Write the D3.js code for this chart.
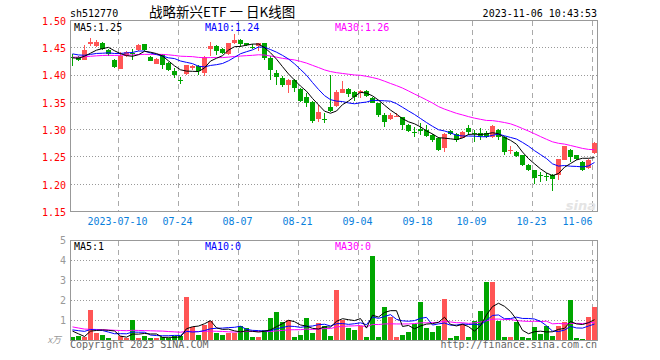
<!DOCTYPE html>
<html><head><meta charset="utf-8">
<script src="https://cdn.jsdelivr.net/npm/d3@7"></script>
<style>body{margin:0;background:#fff}</style>
</head><body><svg id="c" width="660" height="360"></svg>
<script>
const symbol = "sh512770";
const title = "战略新兴ETF 一 日K线图";
const timestamp = "2023-11-06 10:43:53";

const openP = [1.4330,1.4327,1.4284,1.4562,1.4531,1.4593,1.4457,1.4284,1.4117,1.4346,
 1.4410,1.4457,1.4562,1.4327,1.4210,1.4377,1.4222,1.4068,1.3905,1.4025,
 1.4130,1.4173,1.4037,1.4481,1.4531,1.4469,1.4377,1.4580,1.4642,1.4580,
 1.4512,1.4531,1.4580,1.4315,1.4037,1.3945,1.3821,1.3914,1.3741,1.3605,
 1.3513,1.3186,1.3190,1.3408,1.3433,1.3679,1.3747,1.3698,1.3667,1.3710,
 1.3587,1.3482,1.3266,1.3186,1.3240,1.3223,1.3084,1.2965,1.3010,1.2992,
 1.2899,1.2850,1.2672,1.2980,1.2918,1.2856,1.3022,1.2945,1.2942,1.2930,
 1.2869,1.2992,1.2869,1.2615,1.2593,1.2531,1.2347,1.2255,1.2165,1.2145,
 1.2163,1.2163,1.2451,1.2623,1.2530,1.2408,1.2304,1.2574];
const highP = [1.4377,1.4346,1.4543,1.4673,1.4636,1.4599,1.4469,1.4296,1.4420,1.4438,
 1.4481,1.4562,1.4574,1.4346,1.4315,1.4395,1.4235,1.4130,1.3957,1.4191,
 1.4191,1.4185,1.4358,1.4611,1.4543,1.4500,1.4593,1.4747,1.4654,1.4593,
 1.4562,1.4592,1.4593,1.4346,1.4099,1.3976,1.3926,1.3926,1.3760,1.3667,
 1.3525,1.3451,1.3297,1.4006,1.3729,1.3883,1.3760,1.3710,1.3729,1.3729,
 1.3605,1.3494,1.3297,1.3297,1.3297,1.3235,1.3096,1.3053,1.3127,1.3084,
 1.2918,1.2869,1.2942,1.2992,1.2930,1.2980,1.3084,1.2992,1.3022,1.2980,
 1.3084,1.3004,1.2881,1.2697,1.2605,1.2543,1.2365,1.2267,1.2224,1.2206,
 1.2193,1.2464,1.2709,1.2654,1.2540,1.2421,1.2464,1.2771];
const lowP = [1.4161,1.4253,1.4272,1.4531,1.4519,1.4457,1.4358,1.4124,1.4111,1.4333,
 1.4284,1.4444,1.4438,1.4253,1.4204,1.4111,1.4068,1.3945,1.3834,1.4006,
 1.4099,1.4006,1.3988,1.4358,1.4364,1.4377,1.4364,1.4562,1.4519,1.4531,
 1.4469,1.4438,1.4284,1.3914,1.3821,1.3790,1.3680,1.3698,1.3513,1.3408,
 1.3124,1.3143,1.3124,1.3328,1.3408,1.3667,1.3605,1.3531,1.3574,1.3605,
 1.3482,1.3235,1.3050,1.3174,1.3223,1.2992,1.2961,1.2869,1.2899,1.2869,
 1.2777,1.2611,1.2593,1.2899,1.2777,1.2838,1.2899,1.2777,1.2807,1.2838,
 1.2856,1.2807,1.2543,1.2562,1.2500,1.2335,1.2243,1.1997,1.2040,1.2058,
 1.1874,1.2070,1.2439,1.2408,1.2440,1.2236,1.2286,1.2562];
const closeP = [1.4327,1.4284,1.4457,1.4611,1.4605,1.4469,1.4395,1.4148,1.4346,1.4426,
 1.4405,1.4543,1.4457,1.4266,1.4296,1.4191,1.4087,1.4006,1.3902,1.4179,
 1.4170,1.4068,1.4333,1.4531,1.4438,1.4407,1.4580,1.4642,1.4562,1.4549,
 1.4506,1.4586,1.4315,1.4087,1.3963,1.3821,1.3914,1.3760,1.3531,1.3494,
 1.3161,1.3328,1.3180,1.3340,1.3698,1.3747,1.3655,1.3605,1.3716,1.3624,
 1.3494,1.3266,1.3143,1.3266,1.3250,1.3081,1.2980,1.2960,1.2980,1.2881,
 1.2807,1.2636,1.2918,1.2918,1.2807,1.2961,1.2961,1.2940,1.2881,1.2870,
 1.3065,1.2869,1.2593,1.2625,1.2513,1.2347,1.2267,1.2120,1.2160,1.2140,
 1.2101,1.2457,1.2697,1.2500,1.2470,1.2255,1.2451,1.2758];
// volume in 10k units
const volume = [0.17,0.22,0.20,1.55,0.37,0.30,0.12,0.05,0.25,0.12,
 1.05,0.12,0.22,0.12,0.12,0.20,0.13,0.22,0.22,2.17,
 0.70,0.30,0.80,1.00,0.37,0.30,0.37,0.37,0.75,0.63,
 0.17,0.20,0.55,1.12,1.42,0.92,1.05,0.20,0.30,1.12,
 0.37,0.87,0.75,0.25,2.55,1.03,0.62,0.53,0.75,0.17,
 4.25,0.17,1.67,1.20,0.17,0.30,0.42,0.83,1.92,0.63,
 0.42,0.75,2.10,0.12,0.25,0.83,0.17,0.97,1.50,2.92,
 2.92,1.00,0.20,0.20,0.95,0.20,0.15,0.70,0.33,0.75,
 0.25,0.75,0.95,2.05,0.15,0.10,1.20,1.70];
// closes and volumes of the 29 sessions before the visible window (for moving averages)
const priorCloses = [1.425,1.428,1.432,1.435,1.430,1.427,1.424,1.426,1.430,1.433,
 1.436,1.432,1.428,1.425,1.427,1.431,1.434,1.432,1.430,1.429,
 1.448,1.452,1.445,1.443,1.443,1.4315,1.4277,1.4330,1.4326];
const priorVolumes = [1.9,1.8,1.87,0.6,0.55,0.6,0.55,0.59,0.4,0.45,0.38,0.42,0.4,0.4,0.4,
 0.8,0.7,0.75,0.8,0.74,0.6,0.55,0.62,0.58,0.6,0.9,0.88,0.2,0.2];

const tickIndex = [8,18,28,38,48,58,67,77,87];
const tickLabels = ["2023-07-10","07-24","08-07","08-21","09-04","09-18","10-09","10-23","11-06"];
const priceTicks = [1.15,1.20,1.25,1.30,1.35,1.40,1.45,1.50];
const volTicks = [1,2,3,4,5];
const maPeriods = [5,10,30];
const maNames = ["MA5","MA10","MA30"];
const maColors = ["#000000","#0000ff","#ff00ff"];
const volLegendValues = ["1","0","0"];

const N = closeP.length;
const svg = d3.select("#c");
const mono = "'DejaVu Sans Mono', monospace";
const RED = "#ff5555", GREEN = "#00a600";

const x = d3.scaleBand().domain(d3.range(N)).range([69.5, 597.5]);
const cx = i => x(i) + x.bandwidth() / 2;
const y = d3.scaleLinear().domain([1.15, 1.50]).range([211.5, 20.5]);
const yv = d3.scaleLinear().domain([0, 5]).range([340.5, 240.5]);
const snap = v => Math.round(v - 0.5) + 0.5;

function movingAvg(prior, vals, n) {
  const all = prior.concat(vals), off = prior.length;
  return vals.map((_, i) => d3.mean(all.slice(off + i - n + 1, off + i + 1)));
}

// ---- header
svg.append("text").attr("x", 70).attr("y", 17).attr("font-family", mono).attr("font-size", 10).text(symbol);
svg.append("text").attr("x", 149).attr("y", 17).attr("font-family", "'Noto Sans CJK SC', sans-serif")
  .attr("font-size", 13.5).attr("xml:space", "preserve").text(title);
svg.append("text").attr("x", 597).attr("y", 17).attr("text-anchor", "end").attr("font-family", mono).attr("font-size", 10).text(timestamp);

// ---- grids (main)
const gMain = svg.append("g");
gMain.selectAll("line.h").data(priceTicks.filter(t => t > 1.151 && t < 1.499)).join("line")
  .attr("x1", 71).attr("x2", 597).attr("y1", d => snap(y(d))).attr("y2", d => snap(y(d)))
  .attr("stroke", "#999").attr("stroke-dasharray", "1,2");
gMain.selectAll("line.v").data(tickIndex).join("line")
  .attr("x1", d => cx(d) - 2).attr("x2", d => cx(d) - 2).attr("y1", 21).attr("y2", 211)
  .attr("stroke", "#aaa").attr("stroke-dasharray", "5,4");
// watermark
svg.append("text").attr("x", 596).attr("y", 210).attr("text-anchor", "end")
  .attr("font-family", "'DejaVu Sans', sans-serif").attr("font-style", "italic").attr("font-weight", "bold")
  .attr("font-size", 13).attr("fill", "#e4e4e4").text("sina");

// price labels
svg.selectAll("text.pl").data(priceTicks).join("text")
  .attr("x", 66).attr("y", d => y(d) + 4.3).attr("text-anchor", "end")
  .attr("font-family", mono).attr("font-size", 10).attr("fill", "#ff0000").text(d => d.toFixed(2));

// date labels
svg.selectAll("text.dl").data(tickIndex).join("text")
  .attr("x", (d, i) => i === tickIndex.length - 1 ? cx(d) - 2 : cx(d) - 3)
  .attr("text-anchor", (d, i) => i === tickIndex.length - 1 ? "end" : "middle")
  .attr("y", 225).attr("font-family", mono).attr("font-size", 10).attr("fill", "#0a80dc")
  .text((d, i) => tickLabels[i]);

// ---- candles
const gC = svg.append("g").attr("shape-rendering", "crispEdges");
const idx = d3.range(N);
const up = i => closeP[i] >= openP[i];
gC.selectAll("line.w").data(idx).join("line")
  .attr("x1", i => cx(i)).attr("x2", i => cx(i))
  .attr("y1", i => y(highP[i])).attr("y2", i => y(lowP[i]))
  .attr("stroke", i => up(i) ? RED : GREEN);
gC.selectAll("rect.b").data(idx).join("rect")
  .attr("x", i => cx(i) - 2.5).attr("width", 5)
  .attr("y", i => y(Math.max(openP[i], closeP[i])))
  .attr("height", i => Math.max(1, Math.abs(y(openP[i]) - y(closeP[i]))))
  .attr("fill", i => up(i) ? RED : GREEN);

// ---- price MAs
const priceMA = maPeriods.map(n => movingAvg(priorCloses, closeP, n));
const line = d3.line().x((d, i) => cx(i)).y(d => y(d));
[2, 1, 0].forEach(k => {
  svg.append("path").datum(priceMA[k]).attr("d", line).attr("fill", "none")
    .attr("stroke", maColors[k]).attr("stroke-width", 1);
});
// main legend
const legX = [74, 205, 335];
maNames.forEach((nm, k) => {
  svg.append("text").attr("x", legX[k]).attr("y", 30.5).attr("font-family", mono).attr("font-size", 10)
    .attr("fill", maColors[k]).text(nm + ":" + priceMA[k][N - 1].toFixed(2));
});

// main box
svg.append("rect").attr("x", 70.5).attr("y", 20.5).attr("width", 527).attr("height", 191)
  .attr("fill", "none").attr("stroke", "#999");

// ---- volume panel
const gV = svg.append("g");
gV.selectAll("line.h").data(volTicks.filter(t => t < 5)).join("line")
  .attr("x1", 71).attr("x2", 597).attr("y1", d => yv(d)).attr("y2", d => yv(d))
  .attr("stroke", "#999").attr("stroke-dasharray", "1,2");
gV.selectAll("line.v").data(tickIndex).join("line")
  .attr("x1", d => cx(d) - 2).attr("x2", d => cx(d) - 2).attr("y1", 241).attr("y2", 340)
  .attr("stroke", "#aaa").attr("stroke-dasharray", "5,4");
svg.selectAll("text.vl").data(volTicks).join("text")
  .attr("x", 66).attr("y", d => yv(d) + 3.5).attr("text-anchor", "end")
  .attr("font-family", mono).attr("font-size", 10).attr("fill", "#999").text(d => d);
svg.append("text").attr("x", 61).attr("y", 343).attr("text-anchor", "end")
  .attr("font-family", "'Noto Sans CJK SC', sans-serif").attr("font-style", "italic")
  .attr("font-size", 9).attr("fill", "#999").text("x万");

svg.append("g").attr("shape-rendering", "crispEdges").selectAll("rect").data(idx).join("rect")
  .attr("x", i => cx(i) - 2.5).attr("width", 5)
  .attr("y", i => yv(volume[i])).attr("height", i => yv(0) - yv(volume[i]))
  .attr("fill", i => up(i) ? RED : GREEN);

const volMA = maPeriods.map(n => movingAvg(priorVolumes, volume, n));
const vline = d3.line().x((d, i) => cx(i)).y(d => yv(d));
[2, 1, 0].forEach(k => {
  svg.append("path").datum(volMA[k]).attr("d", vline).attr("fill", "none")
    .attr("stroke", maColors[k]).attr("stroke-width", 1);
});
maNames.forEach((nm, k) => {
  svg.append("text").attr("x", legX[k]).attr("y", 250).attr("font-family", mono).attr("font-size", 10)
    .attr("fill", maColors[k]).text(nm + ":" + volLegendValues[k]);
});
svg.append("rect").attr("x", 70.5).attr("y", 240.5).attr("width", 527).attr("height", 100)
  .attr("fill", "none").attr("stroke", "#999");

// footer
svg.append("text").attr("x", 70).attr("y", 348).attr("font-family", mono).attr("font-size", 10)
  .attr("fill", "#666").text("Copyright 2023 SINA.COM");
svg.append("text").attr("x", 597).attr("y", 348).attr("text-anchor", "end").attr("font-family", mono)
  .attr("font-size", 10).attr("fill", "#666").text("http://finance.sina.com.cn");
</script></body></html>
